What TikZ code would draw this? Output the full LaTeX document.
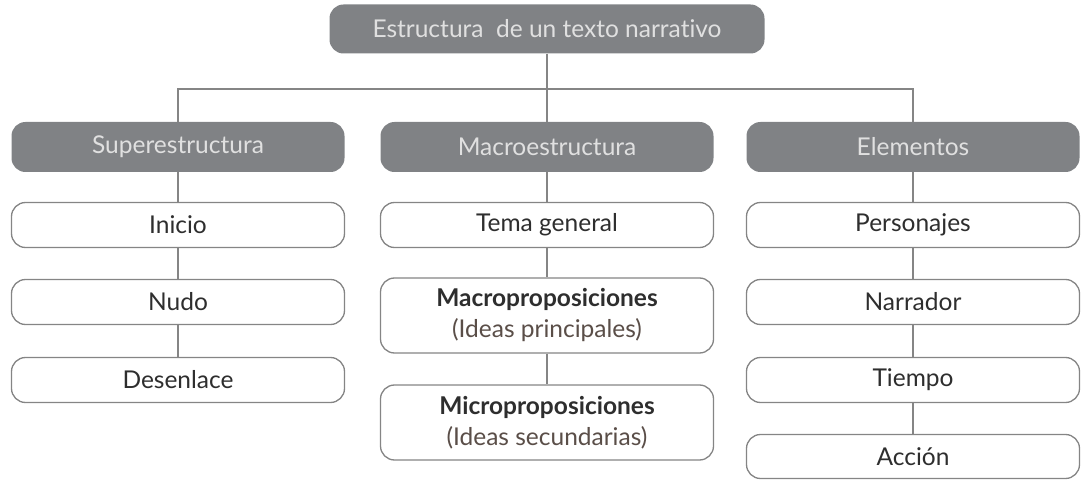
\documentclass[tikz,border=0pt]{standalone}
\usepackage{fontspec}
\setmainfont[Ligatures=NoCommon]{Lato}
\usetikzlibrary{positioning}
\definecolor{cajagris}{HTML}{808285}
\definecolor{lineagris}{HTML}{858585}
\definecolor{textogris}{HTML}{2E2E2E}
\definecolor{textocafe}{HTML}{5A4E48}

\begin{document}
\begin{tikzpicture}[x=1pt,y=-1pt,
	titulo/.style={fill=cajagris, rounded corners=14pt, text=white!88!black, minimum width=333pt, minimum height=50pt, inner sep=0pt, font=\fontsize{24.5}{29}\selectfont},
	caja/.style={draw=lineagris, line width=1.3pt, fill=white, rounded corners=14pt, minimum width=333pt, minimum height=45pt, inner sep=0pt, align=center, text=textogris, font=\fontsize{24.5}{30}\selectfont},
	enlace/.style={draw=lineagris, line width=1.5pt}]
					%\draw[help lines] (0,0) grid (1082,481);
					\useasboundingbox (0,0) rectangle (1082,481);
					%RAIZ
					\node[titulo, minimum width=435pt, minimum height=49pt] (raiz) at (547,29) {Estructura \ de un texto narrativo};
					\coordinate (barra) at (547,89);
					%CABECERAS
					\node[titulo] (sup) at (178,147) {Superestructura};
					\node[titulo] (mac) at (547,147) {Macroestructura};
					\node[titulo] (ele) at (913,147) {Elementos};
					%SUPERESTRUCTURA
					\node[caja] (ini) at (178,225) {Inicio};
					\node[caja] (nud) at (178,302) {Nudo};
					\node[caja] (des) at (178,380) {Desenlace};
					%MACROESTRUCTURA
					\node[caja] (tem) at (547,225) {Tema general};
					\node[caja, minimum height=75pt] (mpr) at (547,315.5) {\textbf{Macroproposiciones}\\[1pt]{\color{textocafe}(Ideas principales)}};
					\node[caja, minimum height=75pt] (mic) at (547,422.5) {\textbf{Microproposiciones}\\[1pt]{\color{textocafe}(Ideas secundarias)}};
					%ELEMENTOS
					\node[caja] (per) at (913,225) {Personajes};
					\node[caja] (nar) at (913,302) {Narrador};
					\node[caja] (tie) at (913,380) {Tiempo};
					\node[caja, minimum height=44pt] (acc) at (913,456.5) {Acción};
					%ENLACES
					\begin{scope}[on background layer/.try]
					\draw[enlace] (sup.north) |- (barra) -| (ele.north);
					\draw[enlace] (raiz.south) -- (mac.north);
					\end{scope}
					\draw[enlace] (sup.south) -- (ini.north);
					\draw[enlace] (ini.south) -- (nud.north);
					\draw[enlace] (nud.south) -- (des.north);
					\draw[enlace] (mac.south) -- (tem.north);
					\draw[enlace] (tem.south) -- (mpr.north);
					\draw[enlace] (mpr.south) -- (mic.north);
					\draw[enlace] (ele.south) -- (per.north);
					\draw[enlace] (per.south) -- (nar.north);
					\draw[enlace] (nar.south) -- (tie.north);
					\draw[enlace] (tie.south) -- (acc.north);
				  \end{tikzpicture}
\end{document}
